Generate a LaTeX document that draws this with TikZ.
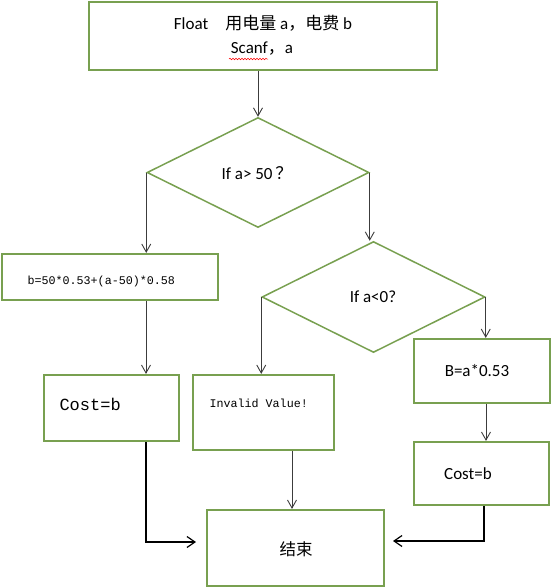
\documentclass[tikz,border=0pt]{standalone}
\usepackage{fontspec}
\setmainfont{Carlito}
\newfontfamily\cjk{Noto Sans CJK SC}
\newfontfamily\cour{Liberation Mono}
\usetikzlibrary{shapes.geometric,arrows.meta,decorations.pathmorphing}
\definecolor{boxgreen}{RGB}{120,160,80}
\definecolor{arrowgray}{RGB}{60,60,60}
\begin{document}
\begin{tikzpicture}[x=1pt,y=-1pt,
  box/.style={draw=boxgreen,line width=2.2pt,rectangle,inner sep=0pt,fill=white},
  dia/.style={draw=boxgreen,line width=1.5pt,diamond,aspect=2,inner sep=0pt},
  arr/.style={draw=arrowgray,line width=0.9pt,-{Straight Barb[length=8pt,width=9pt]}},
  thickarr/.style={draw=black,line width=1.8pt,-{Straight Barb[length=8pt,width=11pt,line width=1.2pt]}},
  lbl/.style={font=\fontsize{17}{20}\selectfont},
  mono/.style={font=\cour\fontsize{11.7}{14}\selectfont}]
\useasboundingbox (0,0) rectangle (551,587);

\node[box,minimum width=348pt,minimum height=68pt] (top) at (263,36) {};
\node[lbl] (t1) at (263,23) {Float\quad{\cjk 用电量} a{\cjk ，电费} b};
\node[lbl] (t2) at (262,49) {Scanf{\cjk ，}a};
\draw[red,line width=0.5pt,decorate,decoration={snake,amplitude=0.8pt,segment length=3pt}] (229,59) -- (268,59);

\node[dia,minimum width=222pt,minimum height=110pt] (d1) at (258,172.5) {};
\node[lbl] at (257,173) {If a> 50\,{\cjk ？}};

\node[dia,minimum width=223pt,minimum height=111pt] (d2) at (373.5,297) {};
\node[lbl] at (373,297) {If a<0?};

\node[box,minimum width=216pt,minimum height=46pt] (bb) at (110,277) {};
\node[mono,anchor=west] at (24,281) {b=50*0.53+(a-50)*0.58};

\node[box,minimum width=135pt,minimum height=66pt] (c1) at (111.5,408) {};
\node[font=\cour\fontsize{17}{19}\selectfont,anchor=west] at (56,404) {Cost=b};

\node[box,minimum width=141pt,minimum height=75pt] (inv) at (263.5,412.5) {};
\node[mono,anchor=west] at (206,403) {Invalid Value!};

\node[box,minimum width=136pt,minimum height=64pt] (B) at (482,371) {};
\node[lbl] at (477,371) {B=a*0.53};

\node[box,minimum width=135pt,minimum height=63pt] (c2) at (481.5,473.5) {};
\node[lbl] at (468,474) {Cost=b};

\node[box,minimum width=177pt,minimum height=76pt] (end) at (295.5,548) {};
\node[font=\cjk\fontsize{16.5}{18}\selectfont] at (296,549) {结束};

\coordinate (e1) at (196,542);
\coordinate (e2) at (393,541);

\draw[arr] (top.south -| d1.north) -- (d1.north);
\draw[arr] (d1.west) -- (d1.west |- bb.north);
\draw[arr] (d1.east) -- (d1.east |- d2.north);
\draw[arr] (d2.west) -- (d2.west |- inv.north);
\draw[arr] (d2.east) -- (d2.east |- B.north);
\draw[arr] (bb.south -| 146,0) -- (c1.north -| 146,0);
\draw[arr] (B.south -| 486,0) -- (c2.north -| 486,0);
\draw[arr] (inv.south -| 292,0) -- (end.north -| 292,0);
\draw[thickarr] (c1.south -| 146,0) |- (e1);
\draw[thickarr] (c2.south -| 484,0) |- (e2);
\end{tikzpicture}
\end{document}
